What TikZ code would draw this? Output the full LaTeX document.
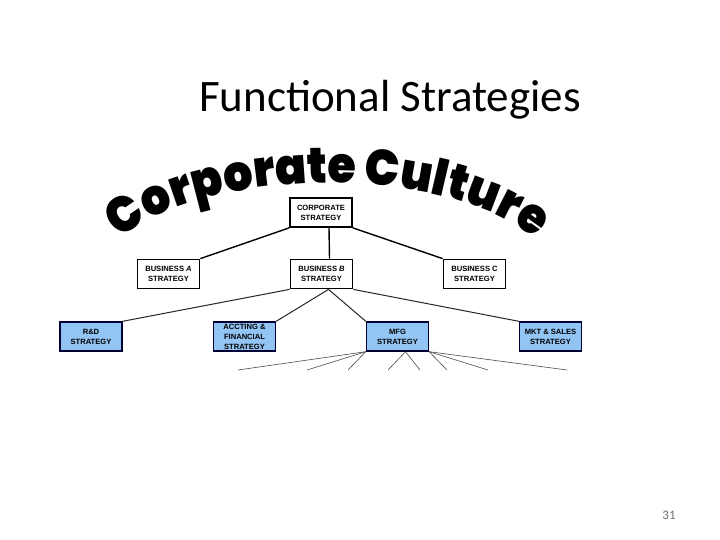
\documentclass[tikz,border=0pt]{standalone}
\usepackage{fontspec}
\setmainfont{Liberation Sans}
\newfontfamily\titlefont{Carlito}
\newfontfamily\culturefont[FakeStretch=0.92]{Poppins Black}
\usetikzlibrary{decorations.text}
\definecolor{boxblue}{RGB}{146,196,244}
\newcommand\chartfont{\fontsize{7.6}{10}\selectfont\bfseries}

\begin{document}
\begin{tikzpicture}[
  x=1pt,y=-1pt,
  topbox/.style={draw=black, line width=1.8pt, fill=white, minimum width=62pt,
    minimum height=29pt, align=center, inner sep=1pt, font=\chartfont},
  funcbox/.style={topbox, line width=1.4pt, draw=black!80!blue, fill=boxblue},
  link/.style={line width=1.4pt, draw=black},
  sublink/.style={line width=1pt, draw=black!85},
  fan/.style={line width=0.6pt, draw=black!70}
]
  \fill[white] (0,0) rectangle (720,540);
  \useasboundingbox (0,0) rectangle (720,540);

  \node[anchor=base, font=\titlefont\fontsize{45}{50}\selectfont] (title) at (390,112)
    {Functional Strategies};
  \node[anchor=base, text=black!55, font=\titlefont\fontsize{13}{15}\selectfont] (page) at (669,519) {31};

  \path[decorate, decoration={text along path, text align=center,
      text={|\culturefont\fontsize{50}{50}\selectfont|Corporate Culture}}]
    (101.5,265.6) arc[start angle=170, end angle=10, x radius=230pt, y radius=100pt];

  \node[topbox] (corp) at (321,212.5) {CORPORATE\\STRATEGY};
  \node[topbox] (busA) at (168.5,274) {BUSINESS \textit{A}\\STRATEGY};
  \node[topbox] (busB) at (321.5,274) {BUSINESS \textit{B}\\STRATEGY};
  \node[topbox] (busC) at (474.5,274) {BUSINESS C\\STRATEGY};

  \node[funcbox] (rd) at (91,336.5) {R\&D\\STRATEGY};
  \node[funcbox] (acct) at (244.5,336.5) {ACCTING \&\\FINANCIAL\\STRATEGY};
  \node[funcbox] (mfg) at (397.5,336.5) {MFG\\STRATEGY};
  \node[funcbox] (mkt) at (550.5,336.5) {MKT \& SALES\\STRATEGY};

  \draw[link] (corp.south west) -- (busA.north east);
  \draw[link] ([xshift=8pt]corp.south) -- ([xshift=8pt]busB.north);
  \draw[link] (corp.south east) -- (busC.north west);

  \draw[sublink] (busB.south west) -- (rd.north east);
  \draw[sublink] ([xshift=7pt]busB.south) -- (acct.north east);
  \draw[sublink] ([xshift=7pt]busB.south) -- (mfg.north west);
  \draw[sublink] (busB.south east) -- (mkt.north west);

  \foreach \x in {238,307,348} {
    \coordinate (fan\x) at (\x,370);
    \draw[fan] (mfg.south west) -- (fan\x);
  }
  \foreach \x in {388,420} {
    \coordinate (fan\x) at (\x,370);
    \draw[fan] ([xshift=8pt]mfg.south) -- (fan\x);
  }
  \foreach \x in {447,488,567} {
    \coordinate (fan\x) at (\x,370);
    \draw[fan] (mfg.south east) -- (fan\x);
  }
\end{tikzpicture}
\end{document}
